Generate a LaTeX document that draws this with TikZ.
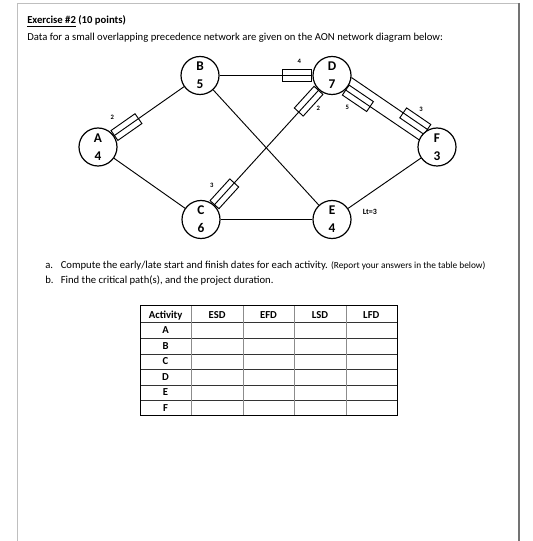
\documentclass[tikz,border=0pt]{standalone}
\usepackage{fontspec}
\setmainfont{Carlito}
\usetikzlibrary{positioning, calc, backgrounds}

\tikzset{
  act/.style={draw, circle, line width=0.9pt, fill=white, minimum size=28.5pt, inner sep=0pt,
    align=center, font=\bfseries\fontsize{10}{13.5}\selectfont},
  link/.style={line width=0.7pt},
  lagbox/.style={draw, line width=0.7pt, minimum width=22pt, minimum height=9pt, inner sep=0pt,
    sloped, allow upside down},
  lagnum/.style={font=\bfseries\fontsize{5}{6}\selectfont, inner sep=0.5pt},
  cell/.style={font=\bfseries\fontsize{8}{9}\selectfont, inner sep=0pt, anchor=base},
  body/.style={anchor=base west, inner sep=0pt, font=\fontsize{8}{10}\selectfont}
}

\begin{document}
\begin{tikzpicture}[x=0.75pt, y=-0.75pt]
  \useasboundingbox (0,0) rectangle (532,541);

  % page edges
  \draw[black!25, line width=0.6pt] (17,541) -- (17,3) -- (519,3);
  \draw[black!55, line width=0.8pt] (519,3) -- (519,541);

  % heading
  \node[body, font=\bfseries\fontsize{8}{10}\selectfont] (title) at (27,24) {\underline{Exercise \#2} (10 points)};
  \node[body] (intro) at (27,40.5) {Data for a small overlapping precedence network are given on the AON network diagram below:};

  % activities
  \node[act] (A) at (98,147) {A\\4};
  \node[act] (B) at (200,75.5) {B\\5};
  \node[act] (C) at (201,219.5) {C\\6};
  \node[act] (D) at (332,75.5) {D\\7};
  \node[act] (E) at (332,219.5) {E\\4};
  \node[act] (F) at (437,147) {F\\3};

  \begin{pgfonlayer}{background}
    \draw[link] (A) -- node[lagbox, pos=0, anchor=west] (lagAB) {} (B);
    \draw[link] (A) -- (C);
    \draw[link] (B) -- node[lagbox, pos=1, anchor=east] (lagBD) {} (D);
    \draw[link] (B) -- (E);
    \draw[link] (C) -- node[lagbox, pos=0, anchor=west] (lagCD) {}
                       node[lagbox, pos=1, anchor=east] (lagDC) {} (D);
    \draw[link] (C) -- (E);
    \draw[link] (D.-6.9) -- node[lagbox, pos=1, anchor=east] (lagDFf) {} (F.118.1);
    \draw[link] (D.-47.7) -- node[lagbox, pos=0, anchor=west] (lagDFs) {} (F.158.9);
    \draw[link] (E) -- (F);
  \end{pgfonlayer}

  % lags
  \node[lagnum] (nAB) at ([shift={(2,-13)}]lagAB.north west) {2};
  \node[lagnum] (nBD) at ([shift={(2,-8)}]lagBD.north) {4};
  \node[lagnum] (nCD) at ([shift={(-7.7,-4)}]lagCD.north) {3};
  \node[lagnum] (nDC) at ([shift={(5,3)}]lagDC.south) {2};
  \node[lagnum] (nDFs) at ([shift={(-7,4)}]lagDFs.south) {5};
  \node[lagnum] (nDFf) at ([shift={(2,-6)}]lagDFf.north) {3};
  \node[lagnum, font=\bfseries\fontsize{6}{7}\selectfont] (lt) at ([shift={(38,-8)}]E.center) {Lt=3};

  % questions
  \node[body] (qa) at (45,268) {a.};
  \node[body] (qatext) at (60.5,268) {Compute the early/late start and finish dates for each activity. {\fontsize{7}{8}\selectfont(Report your answers in the table below)}};
  \node[body] (qb) at (45,283.5) {b.};
  \node[body] (qbtext) at (60.5,283.5) {Find the critical path(s), and the project duration.};

  % answer table
  \foreach \y in {322.7,338.3,354,369.3,385,400}
    \draw[black!80, line width=0.5pt] (140,\y) -- (397,\y);
  \foreach \x in {191,243,294,346}
    \draw[black!45, line width=0.5pt] (\x,305) -- (\x,415);
  \draw[line width=0.7pt] (140,305) rectangle (397,415);
  \foreach \h [count=\i] in {Activity,ESD,EFD,LSD,LFD}
    \node[cell] (head\i) at ({140+51.4*(\i-0.5)},318) {\h};
  \foreach \a [count=\i] in {A,...,F}
    \node[cell] (row\i) at (165.5,{322.7+15.45*(\i-0.5)+3.4}) {\a};
\end{tikzpicture}
\end{document}
